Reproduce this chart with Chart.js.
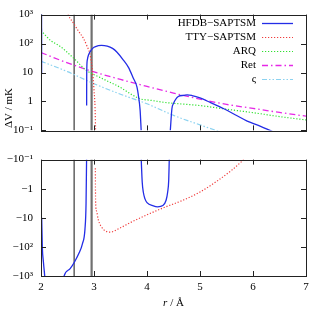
<!DOCTYPE html>
<html><head><meta charset="utf-8">
<script src="https://cdn.jsdelivr.net/npm/chart.js@4/dist/chart.umd.min.js"></script>
<style>
html,body{margin:0;padding:0;background:#fff;}
#wrap{position:relative;width:314px;height:314px;overflow:hidden;}
canvas{position:absolute;left:0;}
#top{top:0;width:314px;height:145px;}
#bot{top:145px;width:314px;height:169px;}
</style></head><body>
<div id="wrap"><canvas id="top" width="314" height="145"></canvas><canvas id="bot" width="314" height="169"></canvas></div>
<script>
// ---- data (r in Å, ΔV in mK; null = break in curve) ----
const xTickValues = [2, 3, 4, 5, 6, 7];
const topTickValues = [0.1, 1, 10, 100, 1000];
const topTickLabels = ['10⁻¹', '1', '10', '10²', '10³'];
const bottomTickValues = [0.1, 1, 10, 100, 1000];
const bottomTickLabels = ['−10⁻¹', '−1', '−10', '−10²', '−10³'];
const seriesNames = ['HFDB−SAPTSM', 'TTY−SAPTSM', 'ARQ', 'Ret', 'ς'];

const hfdbR = [2.01, 2.012, 2.013, 2.025, 2.047, 2.07, 2.09, 2.2,
  2.40, 2.436, 2.55, 2.64, 2.72, 2.78, 2.83, 2.85, 2.86,
  2.861, 2.862, 2.864, 2.875, 2.9, 2.95, 3.0, 3.08, 3.14, 3.25, 3.35, 3.43, 3.55, 3.65, 3.74, 3.81, 3.84, 3.87, 3.89,
  3.891, 3.91, 3.93, 3.96, 4.0, 4.12, 4.2, 4.3, 4.36, 4.39, 4.41, 4.42,
  4.44, 4.47, 4.5, 4.59, 4.69, 4.76, 4.85, 5.0, 5.2, 5.45, 5.7, 5.89, 6.1, 6.32, 6.5];
const hfdbV = [3000, 9.3, -10, -100, -350, -1000, -3000, null,
  -2500, -1000, -560, -310, -160, -80, -24, -3.2, -0.1,
  0.72, 5, 13.5, 28, 42, 60, 74, 84, 87, 82, 68, 51, 27.5, 15, 6.5, 3.2, 1.5, 0.5, 0.1,
  -0.1, -0.6, -1.3, -2.2, -3.0, -3.9, -4.2, -3.8, -2.5, -1.3, -0.5, -0.1,
  0.1, 0.56, 0.85, 1.48, 1.62, 1.7, 1.6, 1.32, 0.91, 0.56, 0.32, 0.21, 0.15, 0.1, 0.07];

const ttyR = [2.45, 2.51, 2.61, 2.70, 2.80, 2.87, 2.92, 2.97, 3.0, 3.02, 3.03,
  3.025, 3.03, 3.05, 3.08, 3.17, 3.30, 3.5, 3.68, 4.0, 4.3, 4.7, 5.0, 5.32, 5.6, 5.83, 6.0];
const ttyV = [2000, 1000, 513, 282, 151, 80, 46, 12, 2.5, 0.6, 0.1,
  -0.2, -2.7, -6, -11.5, -24, -31, -22, -14.8, -7.9, -4.6, -2.4, -1.3, -0.55, -0.23, -0.1, -0.06];

const arqR = [2.0, 2.1, 2.2, 2.35, 2.61, 2.86, 3.11, 3.3, 3.49, 3.7, 3.87, 4.06, 4.37, 5.0, 5.5, 6.0, 6.5, 7.0];
const arqV = [282, 178, 120, 83, 32, 11.7, 6.8, 4.6, 3.1, 1.78, 1.23, 1.1, 0.91, 0.72, 0.54, 0.41, 0.30, 0.23];

const retR = [2.0, 2.5, 3.0, 3.5, 4.0, 4.5, 5.0, 5.5, 6.0, 6.5, 7.0];
const retV = [49, 21.4, 10.5, 5.75, 3.3, 1.95, 1.2, 0.79, 0.575, 0.417, 0.31];

const zetaR = [2.0, 2.5, 3.0, 3.5, 4.0, 4.5, 5.0, 5.3, 5.6];
const zetaV = [24.5, 10.7, 4.1, 1.78, 0.83, 0.33, 0.155, 0.1, 0.063];

const vlineR = [2.625, 2.955];

// ---- styles ----
const styles = [
  {color: 'rgb(35,45,230)', width: 1.3, dash: []},
  {color: 'rgb(240,60,60)', width: 1.2, dash: [1.2, 1.8]},
  {color: 'rgb(50,225,50)', width: 1.2, dash: [1.2, 1.8]},
  {color: 'rgb(230,40,230)', width: 1.3, dash: [6, 3, 1.5, 3]},
  {color: 'rgb(140,210,240)', width: 1.2, dash: [5, 2, 1.5, 2, 1.5, 2]}
];
const FONT = '"Liberation Serif", "DejaVu Serif", serif';

// split a signed series into contiguous runs for one panel (sign>0: top, sign<0: bottom, magnitudes)
function runs(rs, vs, sign) {
  const out = [];
  let cur = [];
  rs.forEach((r, i) => {
    const v = vs[i];
    const ok = v !== null && (sign > 0 ? v > 0 : v < 0);
    if (ok) cur.push({x: r, y: Math.abs(v)});
    else if (cur.length) { out.push(cur); cur = []; }
  });
  if (cur.length) out.push(cur);
  return out;
}

function makeDatasets(sign) {
  const all = [[hfdbR, hfdbV], [ttyR, ttyV], [arqR, arqV], [retR, retV], [zetaR, zetaV]];
  const ds = [];
  all.forEach((p, i) => {
    runs(p[0], p[1], sign).forEach(seg => {
      ds.push({
        label: seriesNames[i],
        data: seg,
        showLine: true, pointRadius: 0, cubicInterpolationMode: 'monotone',
        borderColor: styles[i].color, borderWidth: styles[i].width, borderDash: styles[i].dash,
        fill: false
      });
    });
  });
  vlineR.forEach((r, k) => {
    ds.push({
      label: 'v' + k,
      data: [{x: r, y: 0.1}, {x: r, y: 1000}],
      showLine: true, pointRadius: 0,
      borderColor: k === 0 ? '#3a3a3a' : '#707070', borderWidth: k === 0 ? 1.2 : 2.2, fill: false
    });
  });
  return ds;
}

const framePlugin = {
  id: 'frame',
  afterDatasetsDraw(chart) {
    const {ctx, chartArea: a} = chart;
    const xs = chart.scales.x, ys = chart.scales.y;
    ctx.save();
    ctx.strokeStyle = '#222';
    ctx.lineWidth = 1;
    ctx.setLineDash([]);
    ctx.beginPath();
    xTickValues.forEach(v => {
      const px = Math.round(xs.getPixelForValue(v)) + 0.5;
      ctx.moveTo(px, a.bottom); ctx.lineTo(px, a.bottom - 5);
      ctx.moveTo(px, a.top); ctx.lineTo(px, a.top + 5);
    });
    topTickValues.forEach(v => {
      const py = Math.round(ys.getPixelForValue(v)) + 0.5;
      ctx.moveTo(a.left, py); ctx.lineTo(a.left + 5, py);
      ctx.moveTo(a.right, py); ctx.lineTo(a.right - 5, py);
    });
    ctx.stroke();
    ctx.strokeRect(Math.round(a.left) + 0.5, Math.round(a.top) + 0.5, Math.round(a.right - a.left), Math.round(a.bottom - a.top));
    ctx.restore();
  }
};

const topExtras = {
  id: 'topExtras',
  afterDraw(chart) {
    const ctx = chart.ctx;
    ctx.save();
    ctx.font = '11px ' + FONT;
    ctx.textBaseline = 'middle';
    ctx.textAlign = 'right';
    seriesNames.forEach((n, i) => {
      const y = 23.5 + 14 * i;
      ctx.fillStyle = '#000';
      ctx.fillText(n, 256, y);
      ctx.strokeStyle = styles[i].color;
      ctx.lineWidth = styles[i].width;
      ctx.setLineDash(styles[i].dash);
      ctx.beginPath(); ctx.moveTo(262, y); ctx.lineTo(293, y); ctx.stroke();
    });
    // y title
    ctx.setLineDash([]);
    ctx.translate(9, 108);
    ctx.rotate(-Math.PI / 2);
    ctx.textAlign = 'center';
    ctx.fillStyle = '#000';
    ctx.fillText('ΔV / mK', 0, 0);
    ctx.restore();
  }
};

const botExtras = {
  id: 'botExtras',
  afterDraw(chart) {
    const ctx = chart.ctx;
    const a = chart.chartArea;
    const cx = (a.left + a.right) / 2;
    ctx.save();
    ctx.fillStyle = '#000';
    ctx.textBaseline = 'middle';
    ctx.font = 'italic 11px ' + FONT;
    const w1 = ctx.measureText('r').width;
    ctx.font = '11px ' + FONT;
    const w2 = ctx.measureText(' / Å').width;
    const x0 = cx - (w1 + w2) / 2;
    ctx.textAlign = 'left';
    ctx.font = 'italic 11px ' + FONT;
    ctx.fillText('r', x0, 158);
    ctx.font = '11px ' + FONT;
    ctx.fillText(' / Å', x0 + w1, 158);
    ctx.restore();
  }
};

function yScale(values, labels, reverse) {
  return {
    type: 'logarithmic', min: 0.1, max: 1000, reverse: reverse,
    afterBuildTicks: s => { s.ticks = values.map(v => ({value: v})); },
    afterFit: s => { s.width = 41; },
    ticks: {
      autoSkip: false, padding: 8, color: '#000',
      font: {family: FONT, size: 11},
      callback: (v, i) => labels[i]
    },
    grid: {display: false, drawTicks: false},
    border: {display: false}
  };
}

Chart.defaults.animation = false;

new Chart(document.getElementById('top'), {
  type: 'scatter',
  data: {datasets: makeDatasets(1)},
  options: {
    responsive: false, animation: false,
    layout: {padding: {top: 11, right: 8, bottom: 8, left: 0}},
    plugins: {legend: {display: false}, tooltip: {enabled: false}},
    scales: {
      x: {type: 'linear', min: 2, max: 7, display: false},
      y: yScale(topTickValues, topTickLabels, false)
    }
  },
  plugins: [framePlugin, topExtras]
});

new Chart(document.getElementById('bot'), {
  type: 'scatter',
  data: {datasets: makeDatasets(-1)},
  options: {
    responsive: false, animation: false,
    layout: {padding: {top: 5, right: 8, bottom: 0, left: 0}},
    plugins: {legend: {display: false}, tooltip: {enabled: false}},
    scales: {
      x: {
        type: 'linear', min: 2, max: 7,
        afterBuildTicks: s => { s.ticks = xTickValues.map(v => ({value: v})); },
        afterFit: s => { s.height = 38; },
        ticks: {autoSkip: false, maxRotation: 0, padding: 5, color: '#000', font: {family: FONT, size: 11}},
        grid: {display: false, drawTicks: false},
        border: {display: false}
      },
      y: yScale(bottomTickValues, bottomTickLabels, true)
    }
  },
  plugins: [framePlugin, botExtras]
});
</script>
</body></html>
